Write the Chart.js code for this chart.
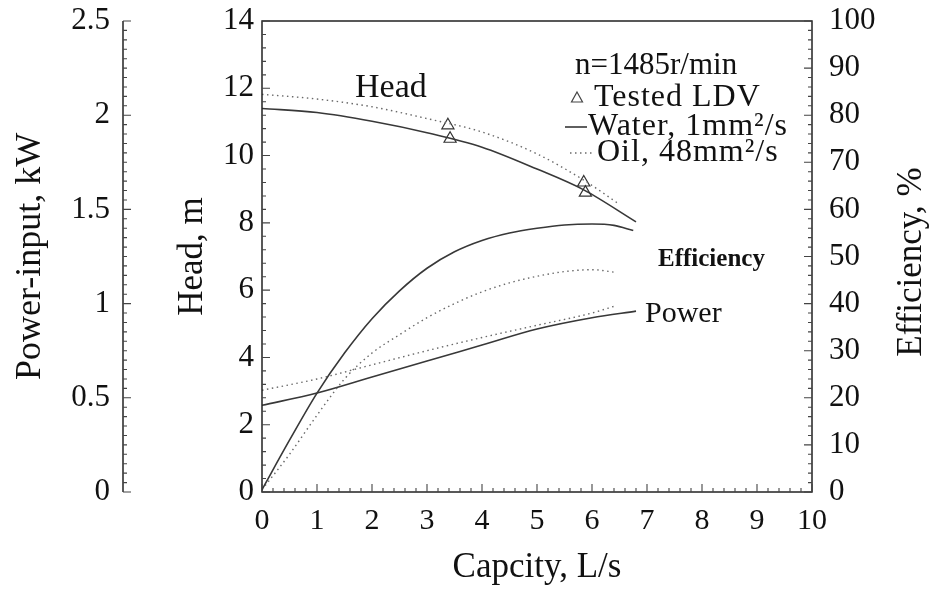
<!DOCTYPE html>
<html>
<head>
<meta charset="utf-8">
<title>Pump performance, water and oil</title>
<script src="https://cdn.jsdelivr.net/npm/chart.js@4.4.1/dist/chart.umd.min.js"></script>
<style>
  body { margin: 0; background: #fff; }
  canvas { display: block; }
</style>
</head>
<body>
<canvas id="myChart" width="933" height="591"></canvas>
<script>
'use strict';

// capacity values (L/s) and the readings taken off each curve
let headWaterQ = [0, 1, 2, 3, 4, 5, 5.85, 6.8];
let headWater = [11.4, 11.28, 11.02, 10.68, 10.25, 9.6, 8.98, 8.03];

let headOilQ = [0, 1, 2, 3, 4, 5, 5.85, 6.5];
let headOil = [11.82, 11.68, 11.45, 11.1, 10.7, 10.05, 9.27, 8.55];

let effWaterQ = [0, 0.5, 1, 1.5, 2, 2.5, 3, 3.5, 4, 4.5, 5, 5.5, 6, 6.4, 6.75];
let effWater = [0.5, 11, 21, 29.5, 36.8, 42.7, 47.5, 51, 53.4, 55, 56, 56.7, 56.9, 56.6, 55.5];

let effOilQ = [0, 0.5, 1, 1.5, 2, 2.5, 3, 3.5, 4, 4.5, 5, 5.5, 6, 6.45];
let effOil = [0.5, 8, 16.3, 24, 29.5, 33.4, 37, 40, 42.5, 44.4, 45.8, 46.8, 47.2, 46.6];

let powerWaterQ = [0, 1, 2, 3, 4, 5, 6, 6.8];
let powerWater = [0.46, 0.525, 0.61, 0.695, 0.78, 0.865, 0.925, 0.96];

let powerOilQ = [0, 1, 2, 3, 4, 5, 6, 6.45];
let powerOil = [0.54, 0.6, 0.675, 0.75, 0.82, 0.885, 0.95, 0.99];

// tested LDV points (head)
let ldvQ = [3.38, 3.42, 5.85, 5.88];
let ldvHead = [10.9, 10.5, 9.2, 8.9];

// tick labels
let capacityTicks = ['0', '1', '2', '3', '4', '5', '6', '7', '8', '9', '10'];
let headTicks = ['0', '2', '4', '6', '8', '10', '12', '14'];
let powerTicks = ['0', '0.5', '1', '1.5', '2', '2.5'];
let effTicks = ['0', '10', '20', '30', '40', '50', '60', '70', '80', '90', '100'];

const SERIF = '"Liberation Serif", "DejaVu Serif", serif';
const INK = '#111';

function toPoints(xs, ys){
  let pts = [];
  for (let i = 0; i < xs.length; i++){
    pts.push({x: xs[i], y: ys[i]});
  }
  return pts;
}

function solid(data, axis){
  return {
    data: data, yAxisID: axis, showLine: true, pointRadius: 0,
    borderColor: '#383838', borderWidth: 1.6, cubicInterpolationMode: 'monotone'
  };
}

function dotted(data, axis){
  return {
    data: data, yAxisID: axis, showLine: true, pointRadius: 0,
    borderColor: '#6a6a6a', borderWidth: 1.4, borderDash: [1.5, 3.5],
    cubicInterpolationMode: 'monotone'
  };
}

// keep the plot box where the picture has it: no extra room for label overhang
function fixBox(size, key){
  return (scale) => {
    scale[key] = size;
    scale.paddingTop = 0;
    scale.paddingBottom = 0;
    scale.paddingLeft = 0;
    scale.paddingRight = 0;
  };
}

// minor + major tick marks along one axis
function tickMarks(ctx, scale, step, every, where, pos){
  let n = Math.round((scale.max - scale.min) / step);
  ctx.beginPath();
  for (let i = 0; i <= n; i++){
    let v = scale.min + i * step;
    let len = (i % every === 0) ? 8 : 4;
    let p = scale.getPixelForValue(v);
    if (where === 'right'){ ctx.moveTo(pos, p); ctx.lineTo(pos + len, p); }
    if (where === 'left'){ ctx.moveTo(pos, p); ctx.lineTo(pos - len, p); }
    if (where === 'up'){ ctx.moveTo(p, pos); ctx.lineTo(p, pos - len); }
  }
  ctx.stroke();
}

let decorations = {
  id: 'decorations',
  afterDraw(chart){
    let ctx = chart.ctx;
    let a = chart.chartArea;
    let s = chart.scales;
    ctx.save();
    ctx.strokeStyle = '#222';
    ctx.lineWidth = 1.5;
    ctx.strokeRect(a.left, a.top, a.right - a.left, a.bottom - a.top);

    // separate power-input axis line
    ctx.beginPath();
    ctx.moveTo(s.power.right, s.power.top);
    ctx.lineTo(s.power.right, s.power.bottom);
    ctx.stroke();

    ctx.lineWidth = 1.1;
    ctx.strokeStyle = '#444';
    tickMarks(ctx, s.power, 0.05, 10, 'right', s.power.right);
    tickMarks(ctx, s.head, 0.4, 5, 'right', a.left);
    tickMarks(ctx, s.eff, 2, 5, 'left', a.right);
    tickMarks(ctx, s.x, 0.2, 5, 'up', a.bottom);

    // curve names
    ctx.fillStyle = INK;
    ctx.textAlign = 'left';
    ctx.textBaseline = 'alphabetic';
    ctx.font = '34px ' + SERIF;
    ctx.fillText('Head', 355, 97);
    ctx.font = '30px ' + SERIF;
    ctx.fillText('Power', 645, 322);
    ctx.font = 'bold 25px ' + SERIF;
    ctx.fillText('Efficiency', 658, 266);

    // legend block
    ctx.font = '31px ' + SERIF;
    ctx.fillText('n=1485r/min', 575, 74);
    ctx.font = '32px ' + SERIF;
    ctx.letterSpacing = '1px';
    ctx.fillText('Tested LDV', 594, 106);
    ctx.fillText('Water, 1mm²/s', 588, 135);
    ctx.fillText('Oil, 48mm²/s', 597, 161);
    ctx.letterSpacing = '0px';

    ctx.lineWidth = 1.2;
    ctx.strokeStyle = '#444';
    ctx.beginPath();
    ctx.moveTo(577, 92);
    ctx.lineTo(582.5, 102);
    ctx.lineTo(571.5, 102);
    ctx.closePath();
    ctx.stroke();

    ctx.lineWidth = 1.6;
    ctx.strokeStyle = '#383838';
    ctx.beginPath();
    ctx.moveTo(565, 127);
    ctx.lineTo(587, 127);
    ctx.stroke();

    ctx.lineWidth = 1.4;
    ctx.strokeStyle = '#6a6a6a';
    ctx.setLineDash([1.5, 3.5]);
    ctx.beginPath();
    ctx.moveTo(570, 153);
    ctx.lineTo(595, 153);
    ctx.stroke();
    ctx.setLineDash([]);

    // right axis title reads upward like the left ones
    ctx.font = '35px ' + SERIF;
    ctx.textAlign = 'center';
    ctx.textBaseline = 'middle';
    ctx.translate(912, 262);
    ctx.rotate(-Math.PI / 2);
    ctx.fillText('Efficiency, %', 0, 0);
    ctx.restore();
  }
};

let ctx = document.getElementById('myChart').getContext('2d');
new Chart(ctx, {
  type: 'scatter',
  data: {
    datasets: [
      solid(toPoints(headWaterQ, headWater), 'head'),
      dotted(toPoints(headOilQ, headOil), 'head'),
      solid(toPoints(effWaterQ, effWater), 'eff'),
      dotted(toPoints(effOilQ, effOil), 'eff'),
      solid(toPoints(powerWaterQ, powerWater), 'power'),
      dotted(toPoints(powerOilQ, powerOil), 'power'),
      {
        data: toPoints(ldvQ, ldvHead), yAxisID: 'head', showLine: false,
        pointStyle: 'triangle', pointRadius: 7, borderWidth: 1.2,
        borderColor: '#333', backgroundColor: 'rgba(255,255,255,0)'
      }
    ]
  },
  options: {
    responsive: false,
    animation: false,
    layout: { padding: { top: 21, left: 0, right: 0, bottom: 0 } },
    plugins: { legend: { display: false }, tooltip: { enabled: false } },
    scales: {
      x: {
        type: 'linear', min: 0, max: 10,
        grid: { display: false, drawTicks: false },
        border: { display: false },
        ticks: {
          stepSize: 1, padding: 11, color: INK,
          font: { family: SERIF, size: 30 },
          callback: (v, i) => capacityTicks[i]
        },
        title: {
          display: true, text: 'Capcity, L/s', color: INK,
          font: { family: SERIF, size: 35 }, padding: { bottom: 2 }
        },
        afterFit: fixBox(99, 'height')
      },
      head: {
        type: 'linear', position: 'left', weight: 0, min: 0, max: 14,
        grid: { display: false, drawTicks: false },
        border: { display: false },
        ticks: {
          stepSize: 2, padding: 8, color: INK,
          font: { family: SERIF, size: 31 },
          callback: (v, i) => headTicks[i]
        },
        title: {
          display: true, text: 'Head, m', color: INK,
          font: { family: SERIF, size: 35 }, padding: { top: 49 }
        },
        afterFit: fixBox(139, 'width')
      },
      power: {
        type: 'linear', position: 'left', weight: 1, min: 0, max: 2.5,
        grid: { display: false, drawTicks: false },
        border: { display: false },
        ticks: {
          stepSize: 0.5, padding: 13, color: INK,
          font: { family: SERIF, size: 31 },
          callback: (v, i) => powerTicks[i]
        },
        title: {
          display: true, text: 'Power-input, kW', color: INK,
          font: { family: SERIF, size: 36 }, padding: { top: 9 }
        },
        afterFit: fixBox(123, 'width')
      },
      eff: {
        type: 'linear', position: 'right', min: 0, max: 100,
        grid: { display: false, drawTicks: false },
        border: { display: false },
        ticks: {
          stepSize: 10, padding: 17, color: INK,
          font: { family: SERIF, size: 31 },
          callback: (v, i) => effTicks[i]
        },
        afterFit: fixBox(121, 'width')
      }
    }
  },
  plugins: [decorations]
});
</script>
</body>
</html>
